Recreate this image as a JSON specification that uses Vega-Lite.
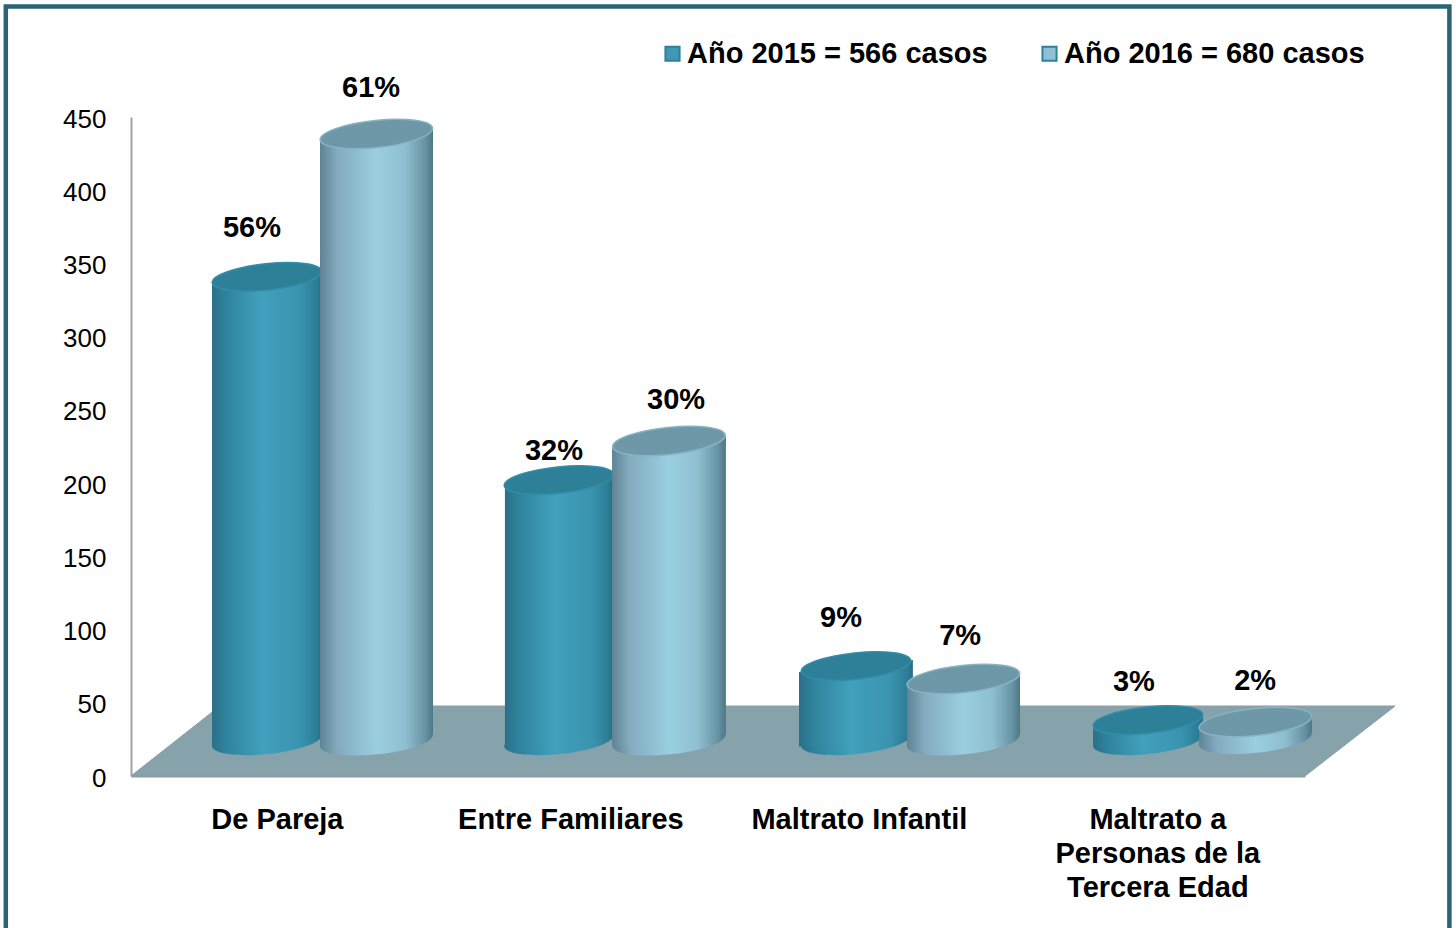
{
"$schema":"https://vega.github.io/schema/vega-lite/v6.json",
"autosize":{"type":"none"},
"padding":{"left":131,"top":117,"right":151,"bottom":152},
"width":1174,"height":659,
"background":"white",
"config":{"view":{"stroke":null},"font":"Liberation Sans"},
"datasets":{
"frame":[{"x":-0.4266,"x2":4.492,"y":525.5,"y2":-120}],
"floor":[{"x":0,"y":0,"y2":0},{"x":0.303,"y":47.8,"y2":0},{"x":4.0,"y":47.8,"y2":0},{"x":4.307,"y":47.8,"y2":47.8}],
"bars":[
{"series":"2015","category":"De Pareja","x":0.463,"y":340.8,"base":24,"pct":"56%","lx":0.412,"ly":374.2},
{"series":"2015","category":"Entre Familiares","x":1.458,"y":202.1,"base":24,"pct":"32%","lx":1.441,"ly":221.9},
{"series":"2015","category":"Maltrato Infantil","x":2.47,"y":75.1,"base":24,"pct":"9%","lx":2.419,"ly":107.9},
{"series":"2015","category":"Maltrato a Personas de la Tercera Edad","x":3.465,"y":38.2,"base":24,"pct":"3%","lx":3.417,"ly":64.2},
{"series":"2016","category":"De Pareja","x":0.836,"y":438.4,"base":24,"pct":"61%","lx":0.818,"ly":469.8},
{"series":"2016","category":"Entre Familiares","x":1.833,"y":228.8,"base":24,"pct":"30%","lx":1.857,"ly":256.8},
{"series":"2016","category":"Maltrato Infantil","x":2.836,"y":66.2,"base":24,"pct":"7%","lx":2.825,"ly":95.6},
{"series":"2016","category":"Maltrato a Personas de la Tercera Edad","x":3.831,"y":36.9,"base":25,"pct":"2%","lx":3.83,"ly":64.9}
],
"sides":[
{"series":"2015","bar":"a","x":0.276,"y":336.7,"y2":19.9},{"series":"2015","bar":"a","x":0.651,"y":344.9,"y2":28.1},
{"series":"2015","bar":"b","x":1.274,"y":198,"y2":19.9},{"series":"2015","bar":"b","x":1.642,"y":206.2,"y2":28.1},
{"series":"2015","bar":"c","x":2.276,"y":71,"y2":19.9},{"series":"2015","bar":"c","x":2.664,"y":79.2,"y2":28.1},
{"series":"2015","bar":"d","x":3.278,"y":34.1,"y2":19.9},{"series":"2015","bar":"d","x":3.652,"y":42.3,"y2":28.1},
{"series":"2016","bar":"a","x":0.644,"y":434.3,"y2":19.9},{"series":"2016","bar":"a","x":1.029,"y":442.5,"y2":28.1},
{"series":"2016","bar":"b","x":1.639,"y":224.7,"y2":19.9},{"series":"2016","bar":"b","x":2.027,"y":232.9,"y2":28.1},
{"series":"2016","bar":"c","x":2.644,"y":62.1,"y2":19.9},{"series":"2016","bar":"c","x":3.029,"y":70.3,"y2":28.1},
{"series":"2016","bar":"d","x":3.639,"y":32.8,"y2":20.9},{"series":"2016","bar":"d","x":4.024,"y":41,"y2":29.1}
],
"legend":[{"label":"Año 2015 = 566 casos","x":2,"y":200},{"label":"Año 2016 = 680 casos","x":2,"y":200}]
},
"data":{"name":"bars"},
"encoding":{
"x":{"field":"x","type":"quantitative","scale":{"domain":[0,4],"nice":false,"zero":false},
"axis":{"title":null,"grid":false,"ticks":false,"domainColor":"#8f9c9f","domainWidth":2,"values":[0.497,1.497,2.48,3.497],"labelColor":"black","labelFont":"Liberation Sans","labelFontSize":29,"labelFontWeight":"bold","labelPadding":29,"labelLineHeight":34,"labelLimit":500,"labelOverlap":false,"labelBound":false,"labelFlush":false,"labelBaseline":"top","labelExpr":"datum.value<1?'De Pareja':datum.value<2?'Entre Familiares':datum.value<3?'Maltrato Infantil':['Maltrato a','Personas de la','Tercera Edad']"}},
"y":{"field":"y","type":"quantitative","scale":{"domain":[0,450],"nice":false,"zero":false},
"axis":{"title":null,"grid":false,"ticks":false,"domainColor":"#a3a3a3","domainWidth":2,"values":[0,50,100,150,200,250,300,350,400,450],"labelColor":"black","labelFont":"Liberation Sans","labelFontSize":26,"labelPadding":25,"labelOffset":2,"labelBound":false}}
},
"layer":[
{"data":{"name":"frame"},"mark":{"type":"rect","fill":null,"stroke":"#2a6374","strokeWidth":4.5},"encoding":{"x2":{"field":"x2"},"y2":{"field":"y2"}}},
{"data":{"name":"floor"},"mark":{"type":"area","color":"#86a2aa","stroke":"#8f9c9f","strokeWidth":1},"encoding":{"y2":{"field":"y2"}}},
{"data":{"name":"legend"},"mark":{"type":"square","opacity":0,"size":200},"encoding":{"color":{"field":"label","type":"nominal","scale":{"range":["#3f98b5","#8fc1d4"]},"legend":{"title":null,"orient":"none","legendX":527,"legendY":-78,"direction":"horizontal","columns":2,"columnPadding":47,"symbolType":"square","symbolSize":200,"symbolOpacity":1,"symbolStrokeColor":"#2f8199","symbolStrokeWidth":2,"labelFont":"Liberation Sans","labelFontSize":29,"labelFontWeight":"bold","labelColor":"black","labelOffset":0,"labelLimit":400,"padding":0}}}},

{"transform":[{"filter":"datum.series=='2015'"}],"mark":{"type":"point","filled":true,"opacity":1,"size":12100,"angle":-6,"shape":"M-1,0A1,0.24 0 1 1 1,0A1,0.24 0 1 1 -1,0Z","fill":{"gradient":"linear","x1":0,"x2":1,"y1":0,"y2":0,"stops":[{"offset":0,"color":"#2b6f88"},{"offset":0.12,"color":"#2f829c"},{"offset":0.45,"color":"#41a0bd"},{"offset":0.8,"color":"#3a94af"},{"offset":0.95,"color":"#2d7d96"},{"offset":1,"color":"#286d84"}]}},"encoding":{"y":{"field":"base","type":"quantitative","title":null}}},
{"data":{"name":"sides"},"transform":[{"filter":"datum.series=='2015'"}],"mark":{"type":"area","opacity":1,"fill":{"gradient":"linear","x1":0,"x2":1,"y1":0,"y2":0,"stops":[{"offset":0,"color":"#2b6f88"},{"offset":0.12,"color":"#2f829c"},{"offset":0.45,"color":"#41a0bd"},{"offset":0.8,"color":"#3a94af"},{"offset":0.95,"color":"#2d7d96"},{"offset":1,"color":"#286d84"}]}},"encoding":{"y2":{"field":"y2"},"detail":{"field":"bar"}}},
{"transform":[{"filter":"datum.series=='2015'"}],"mark":{"type":"point","filled":true,"opacity":1,"size":12100,"angle":-6,"shape":"M-1,0A1,0.24 0 1 1 1,0A1,0.24 0 1 1 -1,0Z","fill":"#2e7f98","stroke":"#328ea8","strokeWidth":1.5}},

{"transform":[{"filter":"datum.series=='2016'"}],"mark":{"type":"point","filled":true,"opacity":1,"size":12769,"angle":-6,"shape":"M-1,0A1,0.24 0 1 1 1,0A1,0.24 0 1 1 -1,0Z","fill":{"gradient":"linear","x1":0,"x2":1,"y1":0,"y2":0,"stops":[{"offset":0,"color":"#5f8394"},{"offset":0.15,"color":"#84aabf"},{"offset":0.5,"color":"#9acfe0"},{"offset":0.75,"color":"#8fbfd0"},{"offset":0.92,"color":"#6a97a8"},{"offset":1,"color":"#4f7886"}]}},"encoding":{"y":{"field":"base","type":"quantitative","title":null}}},
{"data":{"name":"sides"},"transform":[{"filter":"datum.series=='2016'"}],"mark":{"type":"area","opacity":1,"fill":{"gradient":"linear","x1":0,"x2":1,"y1":0,"y2":0,"stops":[{"offset":0,"color":"#5f8394"},{"offset":0.15,"color":"#84aabf"},{"offset":0.5,"color":"#9acfe0"},{"offset":0.75,"color":"#8fbfd0"},{"offset":0.92,"color":"#6a97a8"},{"offset":1,"color":"#4f7886"}]}},"encoding":{"y2":{"field":"y2"},"detail":{"field":"bar"}}},
{"transform":[{"filter":"datum.series=='2016'"}],"mark":{"type":"point","filled":true,"opacity":1,"size":12769,"angle":-6,"shape":"M-1,0A1,0.24 0 1 1 1,0A1,0.24 0 1 1 -1,0Z","fill":"#6e98a8","stroke":"#86b4c3","strokeWidth":1.5}},

{"mark":{"type":"text","font":"Liberation Sans","fontSize":29,"fontWeight":"bold","color":"black","align":"center","baseline":"middle"},"encoding":{"x":{"field":"lx","type":"quantitative","title":null},"y":{"field":"ly","type":"quantitative","title":null},"text":{"field":"pct"}}}
]
}
